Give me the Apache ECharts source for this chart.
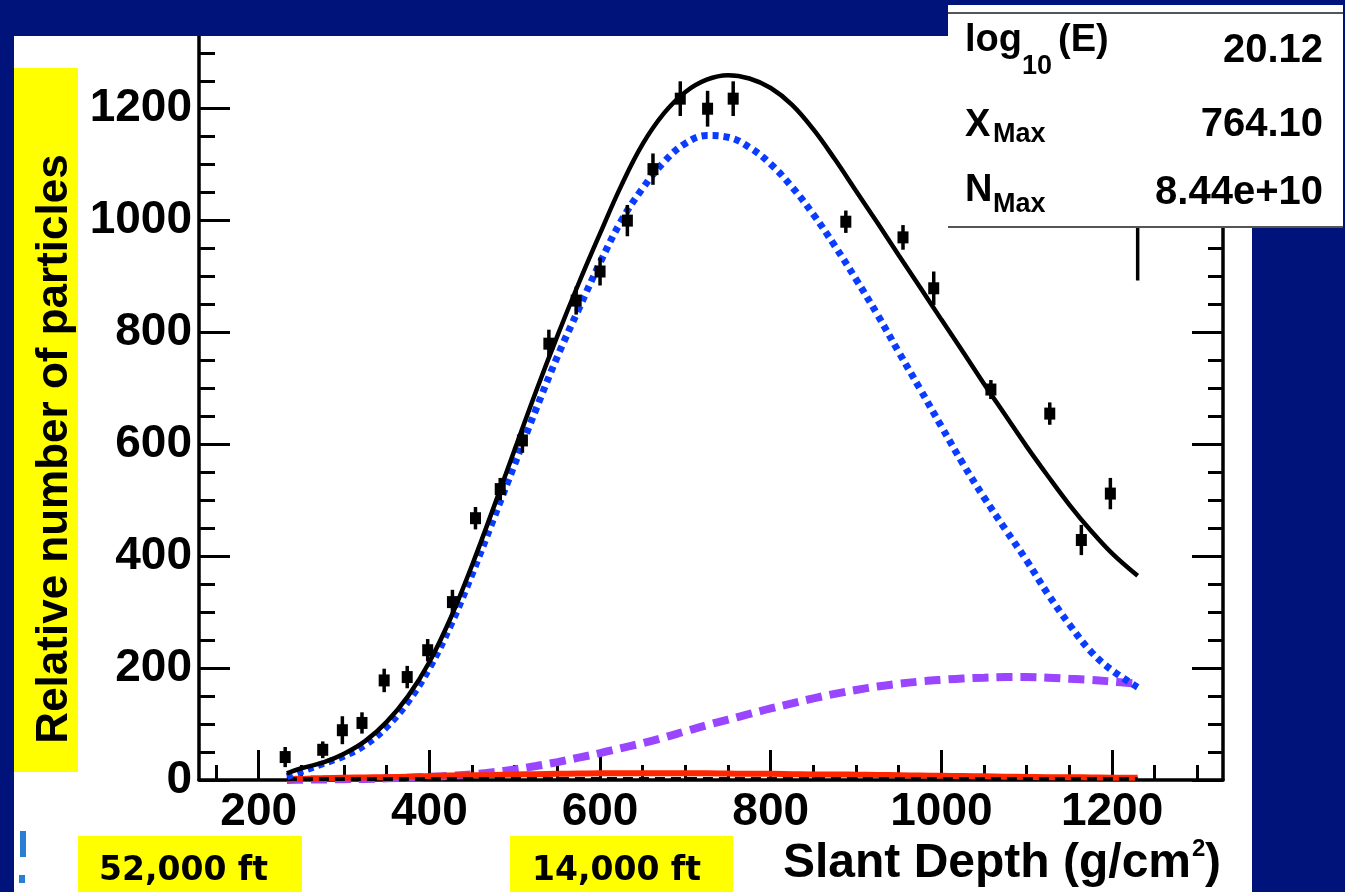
<!DOCTYPE html>
<html>
<head>
<meta charset="utf-8">
<title>Slant depth profile</title>
<script src="https://cdn.jsdelivr.net/npm/echarts@6/dist/echarts.min.js"></script>
<style>
  html, body { margin: 0; padding: 0; background: #00137a; }
  #main { width: 1345px; height: 892px; }
</style>
</head>
<body>
<div id="main"></div>
<script>
// shower profile
const depthGrid = [233, 250, 275, 300, 325, 350, 375, 400, 425, 450, 475, 500, 525, 550, 575, 600, 625, 650, 675, 700,
  725, 750, 775, 800, 825, 850, 875, 900, 925, 950, 975, 1000, 1025, 1050, 1075, 1100, 1125, 1150, 1175, 1200, 1230]

// total fit (black solid)
const totalFit = [12, 21, 31, 47, 70, 104, 150, 211, 290, 384, 486, 591, 695, 794, 888, 977, 1063, 1137, 1192, 1230,
  1252, 1260, 1254, 1237, 1207, 1163, 1110, 1053, 996, 938, 881, 823, 766, 708, 652, 596, 543, 492, 446, 405, 365]
// electromagnetic part (blue dotted)
const emPart = [6, 15, 29, 43, 63, 95, 140, 200, 277, 368, 466, 565, 663, 757, 842, 925, 1000, 1058, 1105, 1138,
  1152, 1149, 1131, 1101, 1060, 1011, 955, 895, 832, 765, 699, 632, 566, 505, 448, 392, 332, 278, 230, 196, 166]
// muon part (violet dashed)
const muonPart = [0, 0.5, 1, 1.5, 2, 3, 4, 5.5, 7.5, 10, 14, 19, 25, 32, 40, 48, 57, 66, 76, 87,
  98, 108, 118, 128, 137, 146, 154, 161, 167, 172, 176, 179, 181.5, 183, 184, 184, 183, 181, 179, 176, 172]
// small component (red solid)
const redPart = [1, 2, 3, 4, 4.5, 5, 6, 7, 8, 8.5, 9, 10, 10.5, 11, 11.5, 12, 12, 12, 12, 12,
  12, 11.5, 11, 11, 10.5, 10, 10, 9.5, 9, 8.5, 8, 7.5, 7, 6.5, 6, 5.5, 5, 5, 4.5, 4, 4]
// near-zero component (black dashed)
const hadronDepth = [233, 1230]
const hadronPart = [2, 2]

// measured points
const obsDepth = [231, 275, 298, 321, 347, 374, 398, 427, 454, 483, 509, 540, 572, 600, 632, 662, 694, 726, 756,
  888, 955, 991, 1058, 1127, 1164, 1198, 1230]
const obsCount = [41, 54, 89, 102, 178, 184, 232, 318, 468, 520, 607, 780, 857, 909, 1000, 1092, 1218, 1200, 1218,
  998, 970, 879, 698, 655, 429, 512, 1150]
const obsErr = [18, 15, 25, 19, 21, 20, 20, 22, 20, 20, 22, 25, 25, 25, 28, 28, 31, 32, 31,
  20, 22, 30, 17, 20, 27, 28, 257]

const xMajor = [200, 400, 600, 800, 1000, 1200]
const xMinor = [150, 250, 300, 350, 450, 500, 550, 650, 700, 750, 850, 900, 950, 1050, 1100, 1150, 1250, 1300]
const yMajor = [0, 200, 400, 600, 800, 1000, 1200]
const yMinor = [50, 100, 150, 250, 300, 350, 450, 500, 550, 650, 700, 750, 850, 900, 950, 1050, 1100, 1150, 1250, 1300]

const fitLabels = [['log', '10', '(E)'], ['X', 'Max', ''], ['N', 'Max', '']]
const fitValues = ['20.12', '764.10', '8.44e+10']
const altitudeLabels = ['52,000 ft', '14,000 ft']

const NAVY = '#00137a'
const FONT = 'Liberation Sans'

function pairs(xs, ys) {
  return xs.map((x, i) => [x, ys[i]])
}

function tickAxis(ticks, len, opts) {
  return Object.assign({
    type: 'value',
    axisLine: { show: false },
    axisTick: { show: true, inside: true, length: len, customValues: ticks, lineStyle: { color: '#000', width: 3 } },
    axisLabel: { show: false },
    splitLine: { show: false }
  }, opts)
}

function curve(ys, color, width, dash, z) {
  return {
    type: 'line', data: pairs(depthGrid, ys), symbol: 'none',
    smooth: 0.4,
    lineStyle: { color: color, width: width, type: dash || 'solid' },
    z: z
  }
}

const chart = echarts.init(document.getElementById('main'))

const labelStyle = { color: '#000', fontFamily: FONT, fontWeight: 'bold', fontSize: 46, formatter: v => String(v) }

// legend box texts
const legendTexts = []
const labelBase = [52, 137, 202]
const subBase = [75, 143, 213]
const subX = [1022, 993, 993]
const valueBase = [63, 137, 205]
fitLabels.forEach((lab, i) => {
  legendTexts.push({ type: 'text', x: 965, y: labelBase[i] - 11.8, z: 101,
    style: { text: lab[0], fontSize: 38, fontWeight: 'bold', fontFamily: FONT, fill: '#000', align: 'left', verticalAlign: 'middle' } })
  legendTexts.push({ type: 'text', x: subX[i], y: subBase[i] - 8.4, z: 101,
    style: { text: lab[1], fontSize: 27, fontWeight: 'bold', fontFamily: FONT, fill: '#000', align: 'left', verticalAlign: 'middle' } })
  if (lab[2]) {
    legendTexts.push({ type: 'text', x: 1058, y: labelBase[i] - 11.8, z: 101,
      style: { text: lab[2], fontSize: 38, fontWeight: 'bold', fontFamily: FONT, fill: '#000', align: 'left', verticalAlign: 'middle' } })
  }
  legendTexts.push({ type: 'text', x: 1323, y: valueBase[i] - 12.4, z: 101,
    style: { text: fitValues[i], fontSize: 40, fontWeight: 'bold', fontFamily: FONT, fill: '#000', align: 'right', verticalAlign: 'middle' } })
})

const option = {
  backgroundColor: '#ffffff',
  animation: false,
  grid: { left: 199, right: 122, top: 36, bottom: 112, containLabel: false, outerBoundsMode: 'none' },
  xAxis: [
    {
      type: 'value', min: 130, max: 1330, position: 'bottom',
      axisLine: { show: true, lineStyle: { color: '#000', width: 3.5 } },
      axisTick: { show: true, inside: true, length: 30, customValues: xMajor, lineStyle: { color: '#000', width: 3 } },
      axisLabel: Object.assign({ customValues: xMajor, margin: 9 }, labelStyle),
      splitLine: { show: false }
    },
    tickAxis(xMinor, 15, { min: 130, max: 1330, position: 'bottom' })
  ],
  yAxis: [
    {
      type: 'value', min: 0, max: 1330, position: 'left',
      axisLine: { show: true, lineStyle: { color: '#000', width: 3.5 } },
      axisTick: { show: true, inside: true, length: 31, customValues: yMajor, lineStyle: { color: '#000', width: 3 } },
      axisLabel: Object.assign({ customValues: yMajor, margin: 7 }, labelStyle),
      splitLine: { show: false }
    },
    tickAxis(yMinor, 16, { min: 0, max: 1330, position: 'left' }),
    {
      type: 'value', min: 0, max: 1330, position: 'right',
      axisLine: { show: true, lineStyle: { color: '#000', width: 3.5 } },
      axisTick: { show: true, inside: true, length: 31, customValues: yMajor, lineStyle: { color: '#000', width: 3 } },
      axisLabel: { show: false },
      splitLine: { show: false }
    },
    tickAxis(yMinor, 15, { min: 0, max: 1330, position: 'right' })
  ],
  series: [
    curve(muonPart, '#9a45ff', 8, [16, 8], 4),
    curve(redPart, '#ff2600', 6, null, 5),
    {
      type: 'line', data: pairs(hadronDepth, hadronPart), symbol: 'none',
      lineStyle: { color: '#000', width: 4, type: [10, 6] }, z: 6
    },
    curve(emPart, '#0a3cff', 7, [6, 5], 7),
    curve(totalFit, '#000', 4.5, null, 8),
    {
      type: 'custom', z: 9, clip: true,
      data: obsDepth.map((x, i) => [x, obsCount[i], obsErr[i]]),
      encode: { x: 0, y: 1 },
      renderItem: (params, api) => {
        const x = api.value(0), y = api.value(1), e = api.value(2)
        const c = api.coord([x, y])
        const top = api.coord([x, y + e])
        const bot = api.coord([x, Math.max(0, y - e)])
        return {
          type: 'group',
          children: [
            { type: 'line', shape: { x1: c[0], y1: top[1], x2: c[0], y2: bot[1] }, style: { stroke: '#000', lineWidth: 3.5 } },
            { type: 'rect', shape: { x: c[0] - 5.5, y: c[1] - 6, width: 11, height: 12 }, style: { fill: '#000' } }
          ]
        }
      }
    }
  ],
  graphic: [
    // slide frame
    { type: 'rect', z: 90, silent: true, shape: { x: 0, y: 0, width: 1345, height: 36 }, style: { fill: NAVY } },
    { type: 'rect', z: 90, silent: true, shape: { x: 0, y: 0, width: 14, height: 892 }, style: { fill: NAVY } },
    { type: 'rect', z: 90, silent: true, shape: { x: 1252, y: 0, width: 93, height: 892 }, style: { fill: NAVY } },
    // logo remnant
    { type: 'rect', z: 91, silent: true, shape: { x: 20, y: 831, width: 6, height: 26 }, style: { fill: '#2a7fd4' } },
    { type: 'rect', z: 91, silent: true, shape: { x: 19, y: 875, width: 6, height: 8 }, style: { fill: '#2a7fd4' } },
    // fit parameter box
    { type: 'rect', z: 100, silent: true, shape: { x: 948, y: 5, width: 395, height: 222 }, style: { fill: '#fff' } },
    { type: 'line', z: 100, silent: true, shape: { x1: 948, y1: 13, x2: 1343, y2: 13 }, style: { stroke: '#555', lineWidth: 2 } },
    { type: 'line', z: 100, silent: true, shape: { x1: 948, y1: 227, x2: 1343, y2: 227 }, style: { stroke: '#555', lineWidth: 2 } },
    ...legendTexts,
    // y title
    { type: 'rect', z: 60, silent: true, shape: { x: 14, y: 68, width: 64, height: 704 }, style: { fill: '#ffff00' } },
    { type: 'text', z: 61, x: 54.5, y: 449, rotation: Math.PI / 2,
      style: { text: 'Relative number of particles', fontSize: 44, fontWeight: 'bold', fontFamily: FONT, fill: '#000', align: 'center', verticalAlign: 'middle' } },
    // x title
    { type: 'text', z: 61, x: 783, y: 864,
      style: { text: 'Slant Depth (g/cm', fontSize: 48, fontWeight: 'bold', fontFamily: FONT, fill: '#000', align: 'left', verticalAlign: 'middle' } },
    { type: 'text', z: 61, x: 1192, y: 849,
      style: { text: '2', fontSize: 24, fontWeight: 'bold', fontFamily: FONT, fill: '#000', align: 'left', verticalAlign: 'middle' } },
    { type: 'text', z: 61, x: 1205, y: 864,
      style: { text: ')', fontSize: 48, fontWeight: 'bold', fontFamily: FONT, fill: '#000', align: 'left', verticalAlign: 'middle' } },
    // altitude tags
    { type: 'rect', z: 60, silent: true, shape: { x: 78, y: 836, width: 224, height: 56 }, style: { fill: '#ffff00' } },
    { type: 'rect', z: 60, silent: true, shape: { x: 510, y: 836, width: 223, height: 56 }, style: { fill: '#ffff00' } },
    { type: 'text', z: 61, x: 99, y: 871,
      style: { text: altitudeLabels[0], fontSize: 33, fontWeight: 'bold', fontFamily: 'DejaVu Sans', fill: '#000', align: 'left', verticalAlign: 'middle' } },
    { type: 'text', z: 61, x: 532, y: 871,
      style: { text: altitudeLabels[1], fontSize: 33, fontWeight: 'bold', fontFamily: 'DejaVu Sans', fill: '#000', align: 'left', verticalAlign: 'middle' } }
  ]
}

chart.setOption(option)
</script>
</body>
</html>
